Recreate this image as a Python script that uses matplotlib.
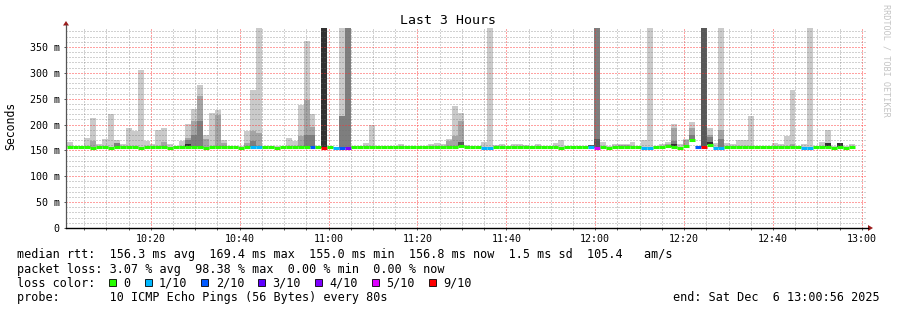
import matplotlib
matplotlib.use("Agg")
import matplotlib.pyplot as plt
from matplotlib.patches import Rectangle, Polygon
from matplotlib.lines import Line2D
from matplotlib.ticker import FixedLocator, MultipleLocator
import numpy as np

N = None
# ---------------- data ----------------
first_step_min = 1 + 4 / 60.0      # 10:01:04, minutes after 10:00
step_seconds = 80

median_ms = [
    156, 156, 156.5, 157, 155.5, 156, 156, 155.5, 157, 156,
    156, 156, 155.5, 156, 156, 156.5, 156, 155, 156, 157,
    156, 157, 156, 155.5, 156, 156, 156.5, 156, 156, 155.5,
    156.5, 156, 156, 156, 156, 155.5, 156, 156, 157, 156,
    157, 156, 156, 155, 156, 155.5, 155.5, 155.5, 156, 156,
    156, 156, 156, 156.5, 156.5, 157, 156, 156, 156, 156,
    156.5, 156, 156, 156, 157, 157, 158, 156, 156, 156,
    155.5, 155.5, 156, 157, 156, 156, 156, 156, 156, 156,
    156, 156, 156, 155.5, 156, 156, 156, 156, 156.5, 155,
    157, 155, 156, 156, 156, 157, 156, 155.5, 155.5, 157,
    156, 158, 157, 155, 158, 169.4, 157, 156, 160, 155.5,
    155.5, 157, 156, 156, 156, 156, 156, 156, 156, 157,
    156, 156, 156.5, 156, 155.5, 155.5, 156, 156, 156, 155.5,
    156.5, 155, 156.8,
]

loss_count = [
    0, 0, 0, 0, 0, 0, 0, 0, 0, 0,
    0, 0, 0, 0, 0, 0, 0, 0, 0, 0,
    0, 0, 0, 0, 0, 0, 0, 0, 0, 0,
    0, 1, 1, 0, 0, 0, 0, 0, 0, 0,
    0, 2, 0, 9, 0, 1, 2, 4, 0, 0,
    0, 0, 0, 0, 0, 0, 0, 0, 0, 0,
    0, 0, 0, 0, 0, 0, 0, 0, 0, 0,
    1, 1, 0, 0, 0, 0, 0, 0, 0, 0,
    0, 0, 0, 0, 0, 0, 0, 0, 1, 5,
    0, 0, 0, 0, 0, 0, 0, 1, 1, 0,
    0, 0, 0, 0, 0, 0, 2, 9, 0, 1,
    1, 0, 0, 0, 0, 0, 0, 0, 0, 0,
    0, 0, 0, 0, 1, 1, 0, 0, 0, 0,
    0, 0, 0,
]

# highest ping (outer, lightest smoke)
ping_max_ms = [
    167, 158, 158, 174, 212, 162, 172, 221, 170, 163,
    193, 187, 306, 168, 163, 190, 193, 162, 158, 168,
    202, 231, 277, 180, 222, 228, 170, 158, 158, 158,
    187, 267, 390, 158, 158, 158, 159, 174, 168, 238,
    361, 220, 157, 390, 158, 157, 390, 390, 158, 158,
    164, 200, 158, 158, 158, 158, 162, 158, 158, 158,
    158, 162, 165, 163, 172, 235, 223, 160, 158, 158,
    167, 390, 160, 162, 158, 162, 162, 160, 158, 162,
    158, 158, 164, 170, 158, 158, 158, 158, 160, 390,
    167, 158, 162, 163, 163, 166, 158, 170, 390, 158,
    162, 167, 202, 162, 172, 204, 158, 390, 193, 164,
    390, 165, 163, 170, 170, 216, 158, 158, 158, 164,
    162, 178, 267, 158, 162, 390, 158, 167, 190, 158,
    164, 158, 163,
]

# inner smoke levels (darker), None = not visible above the median
smoke2_ms = [
    N, N, N, N, 168, N, N, N, N, N,
    N, N, N, N, N, N, 167, N, N, N,
    174, 206, 255, 172, N, 218, 165, N, N, N,
    164, 187, 184, N, N, N, N, N, N, 177,
    248, 195, N, N, N, N, 217, N, N, N,
    N, N, N, N, N, N, N, N, N, N,
    N, N, N, N, 168, 177, 207, N, N, N,
    N, N, N, N, N, N, N, N, N, N,
    N, N, N, N, N, N, N, N, N, N,
    N, N, N, 160, 160, N, N, N, N, N,
    N, 163, 193, N, 170, 193, N, N, 180, N,
    190, N, N, N, N, N, N, N, N, N,
    N, N, 162, N, N, N, N, N, N, N,
    N, N, N,
]

smoke3_ms = [
    N, N, N, N, N, N, N, N, 165, N,
    N, N, N, N, N, N, N, N, N, N,
    170, 180, 206, N, N, N, N, N, N, N,
    N, 168, N, N, N, N, N, N, N, N,
    179, 179, N, N, N, N, 217, 390, N, N,
    N, N, N, N, N, N, N, N, N, N,
    N, N, N, N, N, N, N, N, N, N,
    N, N, N, N, N, N, N, N, N, N,
    N, N, N, N, N, N, N, N, N, 390,
    N, N, N, N, N, N, N, N, N, N,
    N, N, 169, N, N, 180, N, N, 175, N,
    172, N, N, N, N, N, N, N, N, N,
    N, N, N, N, N, N, N, N, N, N,
    N, N, N,
]

smoke4_ms = [
    N, N, N, N, N, N, N, N, N, N,
    N, N, N, N, N, N, N, N, N, N,
    N, N, N, N, N, N, N, N, N, N,
    N, N, N, N, N, N, N, N, N, N,
    N, N, N, N, N, N, N, N, N, N,
    N, N, N, N, N, N, N, N, N, N,
    N, N, N, N, N, N, 167, N, N, N,
    N, N, N, N, N, N, N, N, N, N,
    N, N, N, N, N, N, N, N, 160, 172,
    N, N, N, N, N, N, N, N, N, N,
    N, N, N, N, N, N, N, 390, N, N,
    N, N, N, N, N, N, N, N, N, N,
    N, N, N, N, N, N, N, N, N, N,
    N, N, N,
]

smoke5_ms = [
    N, N, N, N, N, N, N, N, N, N,
    N, N, N, N, N, N, N, N, N, N,
    163, N, N, N, N, N, N, N, N, N,
    N, N, N, N, N, N, N, N, N, N,
    N, N, N, 390, N, N, N, N, N, N,
    N, N, N, N, N, N, N, N, N, N,
    N, N, N, N, N, N, N, N, N, N,
    N, N, N, N, N, N, N, N, N, N,
    N, N, N, N, N, N, N, N, N, N,
    N, N, N, N, N, N, N, N, N, N,
    N, N, 162, N, N, N, N, N, 166, N,
    N, N, N, N, N, N, N, N, N, N,
    N, N, N, N, N, N, N, N, 164, N,
    164, N, N,
]

loss_levels = [0, 1, 2, 3, 4, 5, 9]
loss_labels = ["0", "1/10", "2/10", "3/10", "4/10", "5/10", "9/10"]
loss_colors = ["#26ff00", "#00b8ff", "#0059ff", "#5e00ff", "#7e00ff", "#dd00ff", "#ff0000"]
smoke_colors = ["#cacaca", "#a4a4a4", "#7e7e7e", "#585858", "#323232"]

x_tick_min = [20, 40, 60, 80, 100, 120, 140, 160, 180]
x_tick_labels = ["10:20", "10:40", "11:00", "11:20", "11:40", "12:00", "12:20", "12:40", "13:00"]
y_ticks = [0, 50, 100, 150, 200, 250, 300, 350]

title = "Last 3 Hours"
stats_lines = [
    "median rtt:  156.3 ms avg  169.4 ms max  155.0 ms min  156.8 ms now  1.5 ms sd  105.4   am/s",
    "packet loss: 3.07 % avg  98.38 % max  0.00 % min  0.00 % now",
]
probe_line = "probe:       10 ICMP Echo Pings (56 Bytes) every 80s"
end_line = "end: Sat Dec  6 13:00:56 2025"

# ---------------- figure ----------------
W, H = 897, 310
MONO = "DejaVu Sans Mono"
plt.rcParams["font.family"] = [MONO]
fig = plt.figure(figsize=(W / 100, H / 100), dpi=100)
fig.patch.set_facecolor("white")

def fx(px):
    return px / W

def fy(py):
    return 1 - py / H

ax = fig.add_axes([fx(66), fy(228), 800 / W, 200 / H])
ax.set_facecolor("white")
t_start = 0 + 56 / 60.0
ax.set_xlim(t_start, t_start + 180)
ax.set_ylim(0, 386.7)

n = len(median_ms)
step_min = step_seconds / 60.0
left = first_step_min + np.arange(n) * step_min
med = np.array(median_ms, dtype=float)

def arr(lst):
    return np.array([np.nan if v is None else v for v in lst], dtype=float)

levels = [arr(ping_max_ms), arr(smoke2_ms), arr(smoke3_ms), arr(smoke4_ms), arr(smoke5_ms)]
for i, (top, col) in enumerate(zip(levels, smoke_colors)):
    m = np.isfinite(top) & (top > med)
    ax.bar(left[m], top[m] - med[m], bottom=med[m], width=step_min, align="edge",
           color=col, linewidth=0, antialiased=False, zorder=1 + i * 0.01)

loss = np.array(loss_count)
bins = np.searchsorted(loss_levels, loss, side="right") - 1
line_cols = [loss_colors[b] for b in bins]
ax.hlines(med, left, left + step_min, colors=line_cols, linewidth=2.2,
          zorder=4, capstyle="butt")

# grid (semi-transparent, drawn over the smoke like rrdtool)
ax.xaxis.set_major_locator(FixedLocator(x_tick_min))
ax.xaxis.set_minor_locator(MultipleLocator(5))
ax.yaxis.set_major_locator(FixedLocator(y_ticks))
ax.yaxis.set_minor_locator(MultipleLocator(10))
ax.set_xticklabels(x_tick_labels)
ax.set_yticklabels([f"{v} m" if v else "0" for v in y_ticks])
ax.set_axisbelow(False)
ax.grid(which="minor", color="#707070", alpha=0.32, linestyle=(0, (1.39, 1.39)),
        linewidth=0.72, antialiased=False)
ax.grid(which="major", color="#ff3030", alpha=0.45, linestyle=(0, (1.39, 1.39)),
        linewidth=0.72, antialiased=False)

ax.tick_params(axis="both", which="both", direction="out", width=0.7,
               color="#555555", labelsize=7.2, labelcolor="black")
ax.tick_params(axis="x", which="both", length=1.5, pad=2.5)
ax.tick_params(axis="y", which="major", length=1.5, pad=3.0)
ax.tick_params(axis="y", which="minor", length=0)
for s in ax.spines.values():
    s.set_visible(False)

# axes lines with arrows
fig.add_artist(Line2D([fx(66), fx(66)], [fy(228), fy(25)], color="#555555", lw=0.9))
fig.add_artist(Line2D([fx(66), fx(868)], [fy(228), fy(228)], color="black", lw=1.0))
arrow_col = "#9b1c1c"
fig.add_artist(Polygon([(fx(63), fy(25.5)), (fx(69), fy(25.5)), (fx(66), fy(21))],
                       closed=True, color=arrow_col, lw=0))
fig.add_artist(Polygon([(fx(868), fy(225)), (fx(868), fy(231)), (fx(873), fy(228))],
                       closed=True, color=arrow_col, lw=0))

# texts
fig.text(fx(448), fy(23.5), title, ha="center", va="baseline", fontsize=9.5, color="black")
fig.text(fx(11), fy(126), "Seconds", rotation=90, ha="center", va="center", fontsize=8.3)
fig.text(fx(886), fy(4), "RRDTOOL / TOBI OETIKER", rotation=270, ha="center", va="top",
         fontsize=6.1, color="#c4c4c4")

LFS = 8.5
x0 = 16.7
charw = LFS * 100 / 72 * 0.602
base = [258.3, 272.5, 286.7, 300.9]
fig.text(fx(x0), fy(base[0]), stats_lines[0], ha="left", va="baseline", fontsize=LFS)
fig.text(fx(x0), fy(base[1]), stats_lines[1], ha="left", va="baseline", fontsize=LFS)
fig.text(fx(x0), fy(base[2]), "loss color:", ha="left", va="baseline", fontsize=LFS)
col = 13
for lab, c in zip(loss_labels, loss_colors):
    sx = x0 + col * charw
    fig.add_artist(Rectangle((fx(sx), fy(286)), 7 / W, 7.5 / H, facecolor=c,
                             edgecolor="black", lw=0.6))
    fig.text(fx(x0 + (col + 2) * charw), fy(base[2]), lab, ha="left", va="baseline", fontsize=LFS)
    col = col + 2 + len(lab) + 2
fig.text(fx(x0), fy(base[3]), probe_line, ha="left", va="baseline", fontsize=LFS)
fig.text(fx(880), fy(base[3]), end_line, ha="right", va="baseline", fontsize=LFS)

fig.savefig("out.png", dpi=100, facecolor="white")
